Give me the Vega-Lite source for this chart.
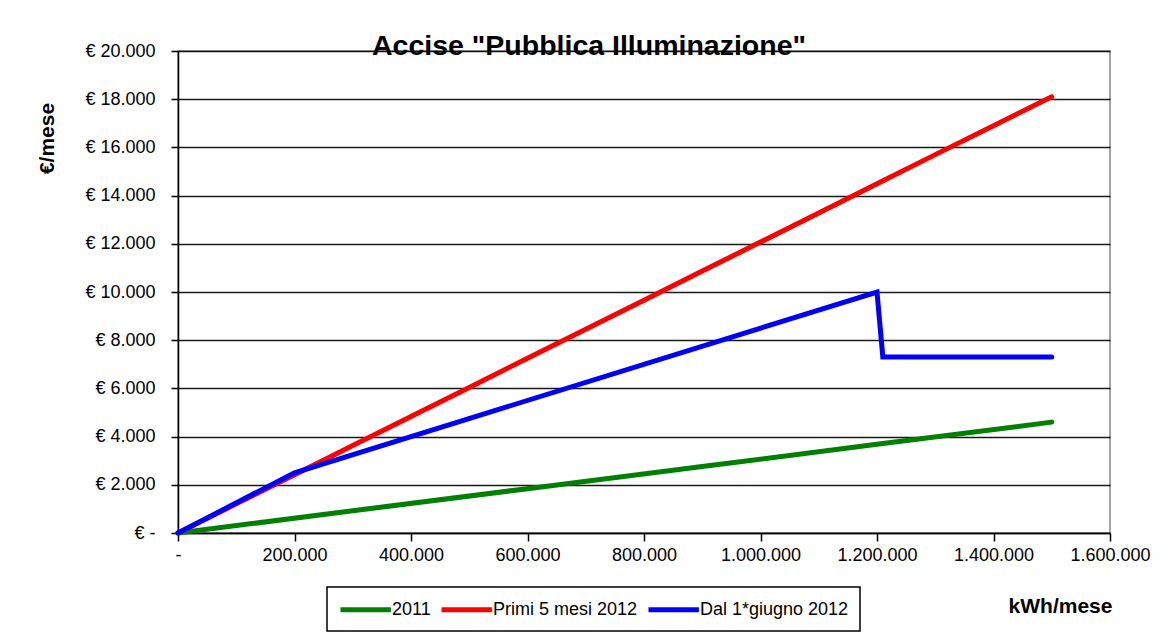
{
  "$schema": "https://vega.github.io/schema/vega-lite/v6.json",
  "autosize": "none",
  "width": 932,
  "height": 482,
  "padding": {"left": 178, "top": 51, "right": 58, "bottom": 103},
  "background": "white",
  "title": {
    "text": "Accise \"Pubblica Illuminazione\"",
    "anchor": "start",
    "frame": "group",
    "dx": 194,
    "dy": 39,
    "offset": -2,
    "baseline": "alphabetic",
    "font": "Liberation Sans",
    "fontSize": 28.5,
    "fontWeight": "bold",
    "color": "black"
  },
  "data": {
    "values": [
      {"kwh": 0, "eur": 0, "serie": "2011"},
      {"kwh": 300000, "eur": 920, "serie": "2011"},
      {"kwh": 600000, "eur": 1840, "serie": "2011"},
      {"kwh": 900000, "eur": 2760, "serie": "2011"},
      {"kwh": 1200000, "eur": 3680, "serie": "2011"},
      {"kwh": 1500000, "eur": 4600, "serie": "2011"},
      {"kwh": 0, "eur": 0, "serie": "Primi 5 mesi 2012"},
      {"kwh": 100000, "eur": 1210, "serie": "Primi 5 mesi 2012"},
      {"kwh": 200000, "eur": 2420, "serie": "Primi 5 mesi 2012"},
      {"kwh": 300000, "eur": 3630, "serie": "Primi 5 mesi 2012"},
      {"kwh": 400000, "eur": 4830, "serie": "Primi 5 mesi 2012"},
      {"kwh": 500000, "eur": 6040, "serie": "Primi 5 mesi 2012"},
      {"kwh": 600000, "eur": 7250, "serie": "Primi 5 mesi 2012"},
      {"kwh": 700000, "eur": 8450, "serie": "Primi 5 mesi 2012"},
      {"kwh": 800000, "eur": 9660, "serie": "Primi 5 mesi 2012"},
      {"kwh": 900000, "eur": 10870, "serie": "Primi 5 mesi 2012"},
      {"kwh": 1000000, "eur": 12070, "serie": "Primi 5 mesi 2012"},
      {"kwh": 1100000, "eur": 13280, "serie": "Primi 5 mesi 2012"},
      {"kwh": 1200000, "eur": 14490, "serie": "Primi 5 mesi 2012"},
      {"kwh": 1300000, "eur": 15700, "serie": "Primi 5 mesi 2012"},
      {"kwh": 1400000, "eur": 16900, "serie": "Primi 5 mesi 2012"},
      {"kwh": 1500000, "eur": 18100, "serie": "Primi 5 mesi 2012"},
      {"kwh": 0, "eur": 0, "serie": "Dal 1*giugno 2012"},
      {"kwh": 200000, "eur": 2500, "serie": "Dal 1*giugno 2012"},
      {"kwh": 1200000, "eur": 10000, "serie": "Dal 1*giugno 2012"},
      {"kwh": 1210000, "eur": 7300, "serie": "Dal 1*giugno 2012"},
      {"kwh": 1500000, "eur": 7300, "serie": "Dal 1*giugno 2012"}
    ]
  },
  "mark": {"type": "line", "strokeWidth": 5, "strokeCap": "round"},
  "encoding": {
    "x": {
      "field": "kwh",
      "type": "quantitative",
      "scale": {"domain": [0, 1600000], "nice": false, "zero": true},
      "axis": {
        "title": "kWh/mese",
        "values": [0, 200000, 400000, 600000, 800000, 1000000, 1200000, 1400000, 1600000],
        "labelExpr": "datum.value == 0 ? '-\u00a0\u00a0' : replace(format(datum.value, ','), /,/g, '.')",
        "labelOverlap": false,
        "labelBound": false,
        "labelFlush": false,
        "grid": false,
        "domainColor": "black",
        "domainWidth": 1.5,
        "tickColor": "black",
        "tickWidth": 1.5,
        "tickSize": 8,
        "labelPadding": 5,
        "labelFont": "Liberation Sans",
        "labelFontSize": 18,
        "labelColor": "black",
        "titleFont": "Liberation Sans",
        "titleFontSize": 21,
        "titleFontWeight": "bold",
        "titleColor": "black",
        "titleX": 882,
        "titleY": 79,
        "titleAlign": "center",
        "titleBaseline": "alphabetic"
      }
    },
    "y": {
      "field": "eur",
      "type": "quantitative",
      "scale": {"domain": [0, 20000], "nice": false},
      "axis": {
        "title": "€/mese",
        "values": [0, 2000, 4000, 6000, 8000, 10000, 12000, 14000, 16000, 18000, 20000],
        "labelExpr": "datum.value == 0 ? '€ -\u00a0\u00a0' : '€ ' + replace(format(datum.value, ','), /,/g, '.')",
        "labelOverlap": false,
        "grid": true,
        "gridColor": "black",
        "gridWidth": 1.3,
        "gridOpacity": 0.9,
        "domainColor": "black",
        "domainWidth": 1.5,
        "tickColor": "black",
        "tickWidth": 1.5,
        "tickSize": 7,
        "labelPadding": 16,
        "labelFont": "Liberation Sans",
        "labelFontSize": 18,
        "labelColor": "black",
        "titleFont": "Liberation Sans",
        "titleFontSize": 21,
        "titleFontWeight": "bold",
        "titleColor": "black",
        "titleAngle": -90,
        "titleX": -125,
        "titleY": 87,
        "titleAlign": "center",
        "titleBaseline": "alphabetic"
      }
    },
    "color": {
      "field": "serie",
      "type": "nominal",
      "sort": ["2011", "Primi 5 mesi 2012", "Dal 1*giugno 2012"],
      "scale": {
        "domain": ["2011", "Primi 5 mesi 2012", "Dal 1*giugno 2012"],
        "range": ["#008000", "#ff0000", "#0000ff"]
      },
      "legend": {
        "title": null,
        "orient": "none",
        "legendX": 149,
        "legendY": 536,
        "direction": "horizontal",
        "symbolType": "M-1,0H4.6",
        "symbolSize": 324,
        "symbolStrokeWidth": 5,
        "labelFont": "Liberation Sans",
        "labelFontSize": 18,
        "labelColor": "black",
        "labelOffset": 31,
        "columnPadding": 0,
        "padding": 11,
        "strokeColor": "black",
        "fillColor": "white"
      }
    }
  },
  "config": {
    "view": {"stroke": "#888888", "strokeWidth": 1.5},
    "legend": {"strokeWidth": 1.5}
  }
}
